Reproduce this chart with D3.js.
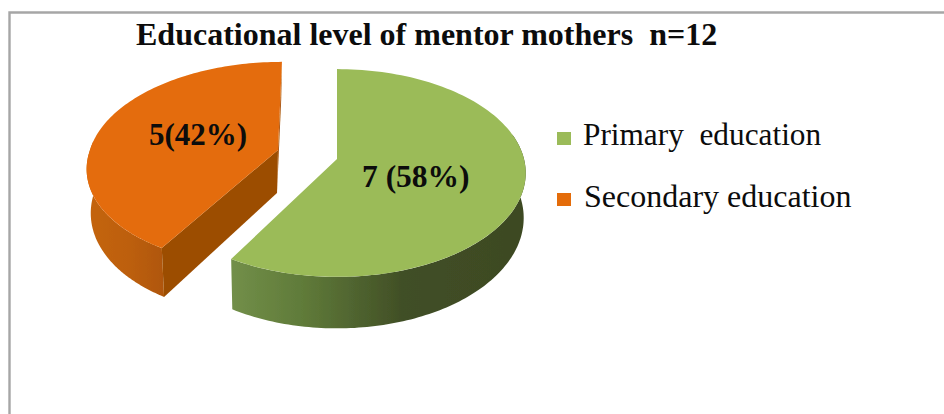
<!DOCTYPE html>
<html>
<head>
<meta charset="utf-8">
<style>html,body{margin:0;padding:0;background:#fff;}svg{display:block;}</style>
<script src="https://cdnjs.cloudflare.com/ajax/libs/d3/7.8.5/d3.min.js"></script>
</head>
<body>
<script>
const titleText = "Educational level of mentor mothers\u00a0\u00a0n=12";
const categories = ["Primary\u00a0\u00a0education", "Secondary education"];
const values = [7, 5];
const dataLabels = ["7 (58%)", "5(42%)"];
const colors = ["#9bbb59", "#e46c0a"];
const cutColors = ["#4a5a2c", "#9c4d06"];

const W = 944, H = 414;
const svg = d3.select("body").append("svg").attr("width", W).attr("height", H);
const defs = svg.append("defs");
defs.append("filter").attr("id", "soft").append("feGaussianBlur").attr("stdDeviation", 0.45);

function gradient(id, x1, x2, stops) {
  const g = defs.append("linearGradient").attr("id", id).attr("gradientUnits", "userSpaceOnUse")
    .attr("x1", x1).attr("x2", x2).attr("y1", 0).attr("y2", 0);
  stops.forEach(s => g.append("stop").attr("offset", s[0]).attr("stop-color", s[1]));
}
gradient("wall0", 231, 526, [[0, "#728f49"], [0.25, "#5f7a39"], [0.58, "#414f26"], [1, "#3d4923"]]);
gradient("wall1", 87, 170, [[0, "#c4650c"], [0.5, "#bd5f0a"], [1, "#ad5507"]]);

// frame
svg.append("path").attr("d", `M9.5,${H}V12.5H${W}`).attr("fill", "none")
  .attr("stroke", "#a6a6a6").attr("stroke-width", 2.4);

// perspective pie geometry
const persp = 0.1346;
const rings = [
  { top: { cx: 337, cy: 159, rx: 187, ry: 102, leanBack: 0, leanFront: 0 },
    bot: { cx: 337, cy: 203, rx: 185, ry: 108.5, leanBack: 0, leanFront: 0 } },
  { top: { cx: 278, cy: 150, rx: 188, ry: 100, leanBack: -0.045, leanFront: -0.1 },
    bot: { cx: 277, cy: 193, rx: 183, ry: 106, leanBack: -0.045, leanFront: -0.09 } }
];
function project(r, a) {
  const u = Math.sin(a), v = -Math.cos(a), w = 1 / (1 - persp * v);
  const dy = r.ry * v * w;
  return [r.cx + r.rx * u * w + (dy > 0 ? r.leanFront : r.leanBack) * dy, r.cy + dy];
}
const line = d3.line();
const arcPts = (r, a0, a1) => d3.range(0, 121).map(i => project(r, a0 + (a1 - a0) * i / 120));

const arcs = d3.pie().sort(null)(values);
const pie = svg.append("g").attr("filter", "url(#soft)");

// Secondary slice is drawn behind, then primary
[1, 0].forEach(i => {
  const d = arcs[i], r = rings[i], g = pie.append("g");
  const a0 = d.startAngle, a1 = d.endAngle;
  const wallFrom = i === 0 ? Math.PI * 0.42 : a0;
  const wallTo = i === 0 ? a1 : Math.PI * 1.53;
  g.append("path").attr("fill", `url(#wall${i})`)
    .attr("d", line(arcPts(r.top, wallFrom, wallTo).concat(arcPts(r.bot, wallFrom, wallTo).reverse())) + "Z");
  if (i === 1) {
    g.append("path").attr("fill", cutColors[i])
      .attr("d", line([[r.top.cx, r.top.cy], project(r.top, a0), project(r.bot, a0), [r.bot.cx, r.bot.cy]]) + "Z");
    g.append("path").attr("fill", "#a9540a")
      .attr("d", line([[r.top.cx, r.top.cy], project(r.top, a1), project(r.bot, a1), [r.bot.cx, r.bot.cy]]) + "Z");
  }
  g.append("path").attr("fill", colors[i])
    .attr("d", line([[r.top.cx, r.top.cy]].concat(arcPts(r.top, a0, a1))) + "Z");
});

const text = (s, x, y, size, weight) => svg.append("text").attr("x", x).attr("y", y)
  .attr("font-family", "'Liberation Serif', serif").attr("font-size", size)
  .attr("font-weight", weight).attr("fill", "#0c0c0c").text(s);

text(titleText, 136, 45, 32, "bold");
text(dataLabels[0], 362, 187, 31.5, "bold");
text(dataLabels[1], 149, 145, 31, "bold");

const legendY = [138.5, 199.5], legendTextX = [583, 584], legendBase = [145, 207];
const legendSize = [31.3, 32];
categories.forEach((c, i) => {
  svg.append("rect").attr("x", 557).attr("y", legendY[i] - 6.5).attr("width", 14).attr("height", 13).attr("fill", colors[i]);
  text(c, legendTextX[i], legendBase[i], legendSize[i], "normal");
});
</script>
</body>
</html>
